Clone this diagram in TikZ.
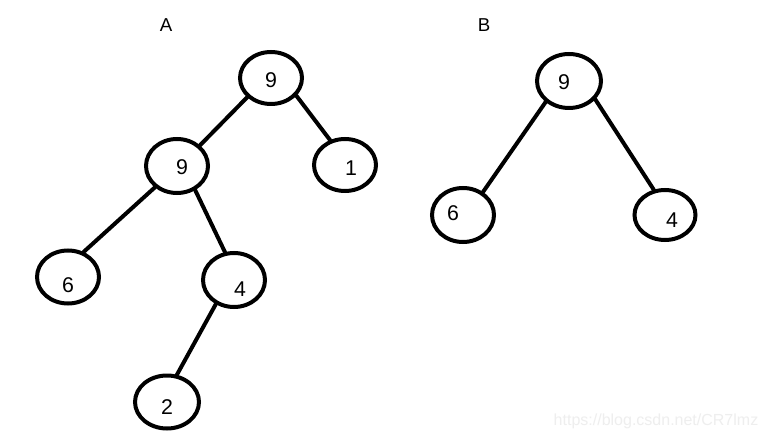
\documentclass[tikz,border=0pt]{standalone}
\usepackage{fontspec}
\setmainfont{Liberation Sans}
\usetikzlibrary{shapes.geometric}
\definecolor{wm}{HTML}{EEEEEE}
\begin{document}
\begin{tikzpicture}[x=0.75pt,y=-0.75pt,
  ell/.style 2 args={ellipse, draw=black, line width=3pt, inner sep=0pt,
    minimum width=#1*0.75pt, minimum height=#2*0.75pt},
  num/.style={font=\fontsize{16}{19}\selectfont, inner sep=0pt},
  edge/.style={draw=black, line width=3pt, line cap=round},
  title/.style={font=\fontsize{14}{17}\selectfont, inner sep=0pt}]
\useasboundingbox[fill=white] (0,0) rectangle (766,441);

% titles
\node[title] (tA) at (166,25) {A};
\node[title] (tB) at (484,25) {B};

% tree A
\node[ell={62}{52}, label={[num, shift={(0,2)}]center:9}] (rA) at (271,78) {};
\node[ell={62}{54}, label={[num, shift={(5,1)}]center:9}] (a9) at (177,166) {};
\node[ell={62}{52}, label={[num, shift={(6,3)}]center:1}] (a1) at (345,165) {};
\node[ell={62}{53}, label={[num, shift={(0,8)}]center:6}] (a6) at (68,277) {};
\node[ell={62}{54}, label={[num, shift={(6,9)}]center:4}] (a4) at (234,280) {};
\node[ell={64}{53}, label={[num, shift={(0,5)}]center:2}] (a2) at (167,402) {};

\draw[edge] (rA.-141) -- (a9.42);
\draw[edge] (rA.-35) -- (a1.121);
\draw[edge] (a9.-136) -- (a6.58);
\draw[edge] (a9.-53) -- (a4.108);
\draw[edge] (a4.-127) -- (a2.70);

% tree B
\node[ell={64}{54}, label={[num, shift={(-5,1)}]center:9}] (rB) at (569,81) {};
\node[ell={62}{54}, label={[num, shift={(-10,-2)}]center:6}] (b6) at (463,215) {};
\node[ell={61}{50}, label={[num, shift={(7,5)}]center:4}] (b4) at (665,215) {};

\draw[edge] (rB.-138) -- (b6.49);
\draw[edge] (rB.-35) -- (b4.114);

% watermark
\node[font=\fontsize{12}{14}\selectfont, text=wm, inner sep=0pt] (wmk) at (656,421) {https://blog.csdn.net/CR7lmz};
\end{tikzpicture}
\end{document}
